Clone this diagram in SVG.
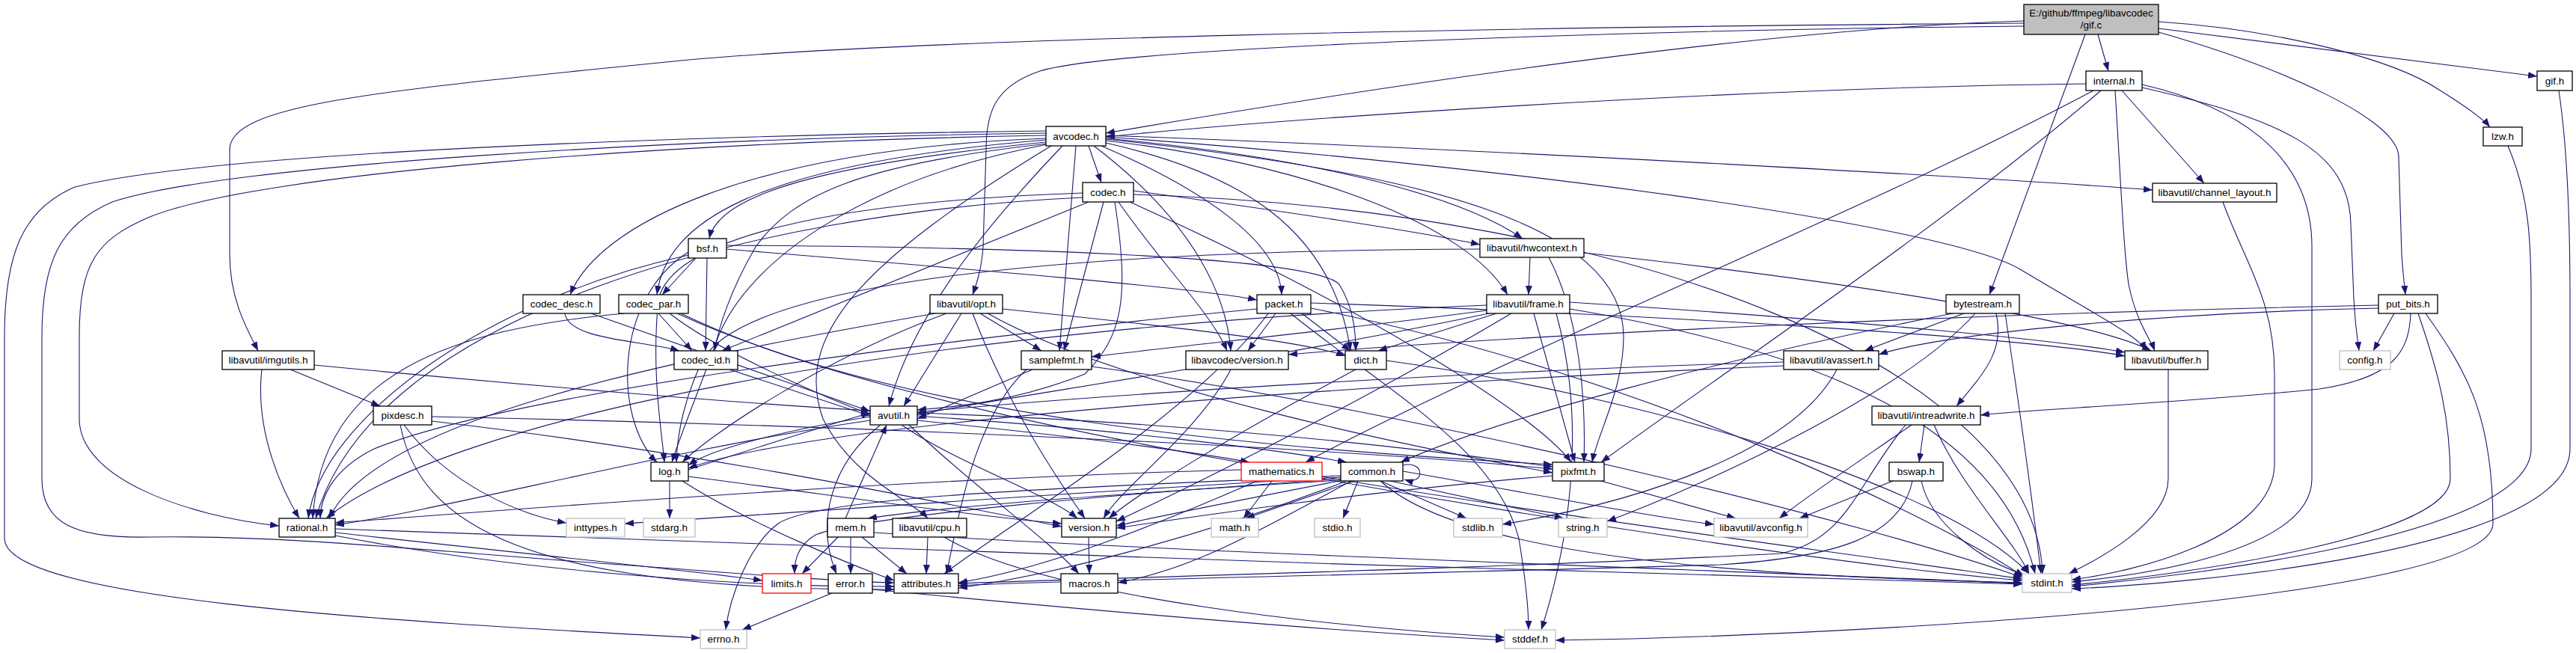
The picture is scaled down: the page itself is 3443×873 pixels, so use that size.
<svg xmlns="http://www.w3.org/2000/svg" width="3443" height="873" viewBox="0 0 3443 873">
<style>
.n rect{fill:#fff;stroke:#000;stroke-width:1.3}
.n.g rect{stroke:#bfbfbf}
.n.r rect{stroke:#ff0000}
.n text{font-family:"Liberation Sans",Arial,sans-serif;font-size:13.5px;fill:#000;text-anchor:middle}
#edges path{fill:none;stroke:#191970;stroke-width:1.1;marker-end:url(#a)}
</style>
<defs>
<marker id="a" markerWidth="13" markerHeight="10" refX="12" refY="4.5" orient="auto" markerUnits="userSpaceOnUse"><path d="M0,0 L12,4.5 L0,9 z" fill="#191970" stroke="none"/></marker>
</defs>
<rect width="3443" height="873" fill="#fff"/>
<g id="edges">
<path d="M2705,28 C2300,40 1700,140 1478,178"/>
<path d="M2705,31 C2000,36 1200,52 900,82 C500,122 307,140 307,200 L307,340 C307,400 330,440 345,469"/>
<path d="M2705,35 C2200,40 1500,62 1390,95 C1330,115 1318,150 1318,200 L1314,330 C1312,360 1305,380 1300,394"/>
<path d="M2804,46 L2818,95"/>
<path d="M2787,46 L2659,394"/>
<path d="M2885,29 C3050,40 3200,80 3260,120 C3300,145 3320,160 3328,170"/>
<path d="M2885,38 L3391,102"/>
<path d="M2885,43 C3050,90 3206,160 3206,210 L3210,340 C3212,370 3214,384 3215,394"/>
<path d="M2788,112 C2300,118 1700,160 1478,183"/>
<path d="M2798,121 C2500,280 2000,480 1745,618"/>
<path d="M2808,121 C2600,300 2300,500 2140,618"/>
<path d="M2836,121 L2946,245"/>
<path d="M2827,121 C2835,250 2838,330 2845,380 C2855,430 2875,455 2880,469"/>
<path d="M2863,113 C2980,140 3090,200 3090,330 L3090,640 C3090,740 2850,770 2769,778"/>
<path d="M2863,117 C3050,160 3140,200 3142,300 L3146,400 C3148,440 3152,460 3153,469"/>
<path d="M2625,419 L2492,469"/>
<path d="M2610,419 C2300,480 2000,560 1872,618"/>
<path d="M2668,419 C2680,470 2650,500 2615,543"/>
<path d="M2640,419 C2550,520 2300,640 2148,697"/>
<path d="M2680,419 C2700,550 2720,700 2728,767"/>
<path d="M3200,419 L3172,469"/>
<path d="M3222,419 C3220,470 3200,505 3100,520 C2900,540 2700,548 2647,555"/>
<path d="M3179,412 C2900,418 2600,445 2511,474"/>
<path d="M3232,419 C3260,500 3275,560 3275,640 C3275,720 2900,770 2769,782"/>
<path d="M3242,419 C3300,500 3332,560 3332,700 C3332,800 2500,850 2079,856"/>
<path d="M3179,408 C2600,420 2000,450 1722,474"/>
<path d="M3352,195 C3380,260 3383,320 3383,400 L3383,600 C3383,720 2900,772 2769,784"/>
<path d="M3420,121 C3432,200 3435,300 3435,400 L3435,600 C3435,740 2900,782 2769,787"/>
<path d="M2971,270 C3000,350 3040,400 3040,500 L3040,620 C3040,720 2850,765 2769,775"/>
<path d="M2898,494 L2898,640 C2898,700 2800,750 2765,767"/>
<path d="M2572,568 L2565,618"/>
<path d="M2555,568 C2480,620 2420,660 2378,693"/>
<path d="M2547,568 C2480,650 2470,720 2380,740 C2000,760 1500,772 1281,780"/>
<path d="M2585,568 C2620,650 2690,720 2712,767"/>
<path d="M2530,643 L2405,693"/>
<path d="M2556,643 C2540,720 2450,745 2300,755 C1800,770 1400,776 1281,783"/>
<path d="M2568,643 C2580,700 2650,750 2706,769"/>
<path d="M2455,494 C2400,600 2200,670 2008,701"/>
<path d="M2384,484 C2000,495 1500,525 1226,551"/>
<path d="M2384,489 C1900,510 1100,560 920,626"/>
<path d="M1792,636 C1500,650 1100,660 1040,700 C1000,730 975,800 970,842"/>
<path d="M1792,638 C1400,660 1000,690 835,700"/>
<path d="M1794,640 C1500,660 1150,690 1090,715 C1065,730 1062,750 1062,767"/>
<path d="M1810,643 L1665,693"/>
<path d="M1845,643 C1950,740 2300,770 2703,779"/>
<path d="M1815,643 L1795,693"/>
<path d="M1845,643 L1960,693"/>
<path d="M1858,643 L2090,693"/>
<path d="M1800,643 C1600,720 1400,770 1281,786"/>
<path d="M1806,643 C1700,700 1600,760 1494,779"/>
<path d="M1795,642 C1650,670 1550,690 1492,703"/>
<path d="M1875,630 C2050,660 2200,690 2291,701"/>
<path d="M1792,642 C1500,660 1280,675 1160,693"/>
<path d="M1875,622 C1905,615 1905,650 1877,641"/>
<path d="M1226,556 C1500,575 1700,600 1800,618"/>
<path d="M1226,562 C1450,585 1600,605 1670,618"/>
<path d="M1177,568 C1110,620 1090,700 1118,767"/>
<path d="M1163,562 C900,600 600,680 448,702"/>
<path d="M1205,568 C1280,620 1400,660 1440,693"/>
<path d="M1215,568 C1300,650 1400,720 1442,767"/>
<path d="M1163,557 C1050,575 950,600 920,622"/>
<path d="M1226,552 C1600,565 1900,600 2075,624"/>
<path d="M895,643 L895,693"/>
<path d="M920,628 C1000,602 1100,570 1163,552"/>
<path d="M912,643 C1000,700 1150,760 1195,776"/>
<path d="M920,637 C1100,660 1300,690 1419,700"/>
<path d="M448,707 C1000,725 2000,765 2703,781"/>
<path d="M448,712 C700,740 900,760 1019,776"/>
<path d="M448,716 C700,765 1000,785 1195,784"/>
<path d="M540,568 C600,650 700,690 757,699"/>
<path d="M535,568 C560,700 700,790 1195,788"/>
<path d="M577,557 C1200,570 1800,600 2075,627"/>
<path d="M577,563 C900,600 1200,660 1419,704"/>
<path d="M420,488 C700,515 1000,540 1163,549"/>
<path d="M388,494 L508,543"/>
<path d="M350,494 C340,580 380,660 400,693"/>
<path d="M790,419 L1163,550"/>
<path d="M755,419 C760,455 860,455 908,469"/>
<path d="M880,419 L925,469"/>
<path d="M895,419 C960,470 1100,530 1163,554"/>
<path d="M835,419 C600,440 430,500 418,693"/>
<path d="M910,419 C1200,560 1700,600 2075,621"/>
<path d="M905,419 C1300,600 2200,700 2703,774"/>
<path d="M975,494 L1163,556"/>
<path d="M930,345 L885,394"/>
<path d="M945,345 L943,469"/>
<path d="M971,333 C1300,360 1600,385 1680,401"/>
<path d="M971,328 C1300,330 1750,340 1790,380 C1808,410 1812,440 1812,469"/>
<path d="M920,337 C820,400 820,560 878,618"/>
<path d="M920,341 C650,400 430,560 412,693"/>
<path d="M1515,260 C2200,280 2720,500 2730,767"/>
<path d="M1515,255 C1700,280 1900,310 1978,327"/>
<path d="M1510,270 C1800,400 2050,550 2100,618"/>
<path d="M1490,270 C1510,400 1500,450 1450,500 C1350,540 1260,545 1226,548"/>
<path d="M1447,258 C1100,270 900,320 880,400 C870,500 885,580 888,618"/>
<path d="M1447,264 C1000,285 500,420 422,693"/>
<path d="M1475,270 L1422,469"/>
<path d="M1455,270 L965,469"/>
<path d="M1495,270 C1550,350 1620,420 1640,469"/>
<path d="M1398,175 C1000,180 300,200 100,250 C30,280 6,340 6,450 L6,720 C6,800 500,830 936,853"/>
<path d="M1398,178 C900,185 300,220 150,270 C80,300 56,350 56,450 L56,640 C56,700 100,720 200,718 C400,715 600,740 900,760 C1050,772 1150,778 1195,779"/>
<path d="M1398,181 C900,190 350,230 200,290 C130,320 106,350 106,450 L106,560 C106,640 250,690 373,703"/>
<path d="M1420,195 C1320,300 1220,420 1188,543"/>
<path d="M1455,195 L1472,244"/>
<path d="M1398,190 C1100,220 960,260 948,319"/>
<path d="M1398,187 C1000,220 890,300 878,394"/>
<path d="M1398,185 C1000,200 800,300 762,394"/>
<path d="M1400,192 C1150,220 1060,260 1010,330 C975,390 960,440 955,469"/>
<path d="M1438,195 L1416,469"/>
<path d="M1462,195 C1600,300 1640,400 1645,469"/>
<path d="M1472,195 C1600,250 1710,320 1713,394"/>
<path d="M1478,191 C1650,230 1780,300 1805,469"/>
<path d="M1478,188 C1750,220 1960,300 2015,394"/>
<path d="M1478,185 C1750,210 1950,260 2035,319"/>
<path d="M1478,186 C1900,230 2170,300 2170,450 C2170,520 2135,580 2128,618"/>
<path d="M1478,183 C2000,220 2600,300 2700,360 C2800,420 2860,450 2868,469"/>
<path d="M1478,181 C2000,200 2700,240 2877,254"/>
<path d="M1405,195 C1150,350 1060,450 1100,560 C1140,640 1220,670 1240,693"/>
<path d="M1400,193 C1150,240 1000,350 960,450 C935,520 910,580 898,618"/>
<path d="M1705,419 L1668,469"/>
<path d="M1740,419 L1805,469"/>
<path d="M1752,405 C2200,420 2700,450 2840,476"/>
<path d="M1680,413 C1300,450 700,520 500,600 C440,630 428,670 428,693"/>
<path d="M1695,419 C1600,550 1350,700 1262,767"/>
<path d="M1725,419 C1850,520 2000,600 2030,720 C2040,780 2043,820 2043,842"/>
<path d="M1752,412 C2200,500 2600,700 2705,771"/>
<path d="M1645,494 C1600,580 1500,650 1475,693"/>
<path d="M1310,419 L1392,469"/>
<path d="M1285,419 L1208,543"/>
<path d="M1265,419 C1100,480 950,580 912,618"/>
<path d="M1250,419 C900,480 500,560 440,693"/>
<path d="M1340,413 C1600,440 1750,458 1798,476"/>
<path d="M1320,419 C1500,520 1900,600 2075,632"/>
<path d="M1300,419 C1350,550 1420,650 1450,693"/>
<path d="M1380,494 L1226,560"/>
<path d="M1372,494 C1300,560 1280,700 1265,767"/>
<path d="M1459,490 C1900,550 2500,700 2703,772"/>
<path d="M2045,344 L2043,394"/>
<path d="M2117,338 C2500,380 2800,430 2875,469"/>
<path d="M1978,333 C1400,335 1000,380 940,480 C915,530 905,580 904,618"/>
<path d="M2070,344 C2110,420 2120,530 2117,618"/>
<path d="M2080,419 C2130,600 2080,780 2060,842"/>
<path d="M2098,413 C2500,480 2680,600 2720,767"/>
<path d="M1990,419 C1700,480 1350,530 1226,554"/>
<path d="M2098,404 C2500,430 2750,455 2840,471"/>
<path d="M2000,419 L1842,469"/>
<path d="M1987,408 C1200,440 600,560 436,693"/>
<path d="M1987,415 C1800,440 1600,460 1459,477"/>
<path d="M2050,419 L2105,618"/>
<path d="M2020,419 C1800,550 1550,670 1492,697"/>
<path d="M1853,482 C2200,530 2600,650 2712,767"/>
<path d="M1812,494 C1650,580 1520,660 1482,693"/>
<path d="M1120,718 L1072,767"/>
<path d="M1137,718 L1137,767"/>
<path d="M1152,718 L1212,767"/>
<path d="M1130,693 L1185,568"/>
<path d="M1168,712 C1600,740 2300,762 2703,780"/>
<path d="M1240,718 L1238,767"/>
<path d="M1262,718 C1400,800 1800,840 2011,852"/>
<path d="M1112,793 L992,842"/>
<path d="M1166,788 C1500,820 1800,845 2011,856"/>
<path d="M1455,718 L1456,767"/>
<path d="M2140,643 L2320,693"/>
<path d="M2075,636 C1800,660 1600,690 1492,706"/>
<path d="M1700,643 L1662,693"/>
<path d="M1767,640 C2100,700 2500,760 2703,776"/>
<path d="M1680,643 C1550,700 1400,760 1281,779"/>
<path d="M1659,628 C1200,640 700,680 448,699"/>
</g>
<g id="gif_c" class="n"><rect x="2705" y="6" width="180" height="40" style="fill:#bfbfbf"/><text x="2795" y="22">E:/github/ffmpeg/libavcodec</text><text x="2795" y="38">/gif.c</text></g>
<g id="internal_h" class="n"><rect x="2788" y="95" width="75" height="26"/><text x="2825.5" y="113">internal.h</text></g>
<g id="gif_h" class="n"><rect x="3391" y="95" width="47" height="26"/><text x="3414.5" y="113">gif.h</text></g>
<g id="lzw_h" class="n"><rect x="3319" y="170" width="52" height="25"/><text x="3345" y="187">lzw.h</text></g>
<g id="channel_layout_h" class="n"><rect x="2877" y="245" width="166" height="25"/><text x="2960" y="262">libavutil/channel_layout.h</text></g>
<g id="bytestream_h" class="n"><rect x="2601" y="394" width="98" height="25"/><text x="2650" y="411">bytestream.h</text></g>
<g id="put_bits_h" class="n"><rect x="3179" y="394" width="79" height="25"/><text x="3218.5" y="411">put_bits.h</text></g>
<g id="buffer_h" class="n"><rect x="2840" y="469" width="111" height="25"/><text x="2895.5" y="486">libavutil/buffer.h</text></g>
<g id="config_h" class="n g"><rect x="3127" y="469" width="68" height="25"/><text x="3161" y="486">config.h</text></g>
<g id="intreadwrite_h" class="n"><rect x="2502" y="543" width="145" height="25"/><text x="2574.5" y="560">libavutil/intreadwrite.h</text></g>
<g id="bswap_h" class="n"><rect x="2525" y="618" width="72" height="25"/><text x="2561" y="635">bswap.h</text></g>
<g id="stdint_h" class="n g"><rect x="2703" y="767" width="66" height="25"/><text x="2736" y="784">stdint.h</text></g>
<g id="avcodec_h" class="n"><rect x="1398" y="169" width="80" height="26"/><text x="1438" y="187">avcodec.h</text></g>
<g id="codec_h" class="n"><rect x="1447" y="244" width="68" height="26"/><text x="1481" y="262">codec.h</text></g>
<g id="bsf_h" class="n"><rect x="920" y="319" width="51" height="26"/><text x="945.5" y="337">bsf.h</text></g>
<g id="hwcontext_h" class="n"><rect x="1978" y="319" width="139" height="25"/><text x="2047.5" y="336">libavutil/hwcontext.h</text></g>
<g id="codec_desc_h" class="n"><rect x="699" y="394" width="103" height="25"/><text x="750.5" y="411">codec_desc.h</text></g>
<g id="codec_par_h" class="n"><rect x="827" y="394" width="93" height="25"/><text x="873.5" y="411">codec_par.h</text></g>
<g id="opt_h" class="n"><rect x="1243" y="394" width="97" height="25"/><text x="1291.5" y="411">libavutil/opt.h</text></g>
<g id="packet_h" class="n"><rect x="1680" y="394" width="72" height="25"/><text x="1716" y="411">packet.h</text></g>
<g id="frame_h" class="n"><rect x="1987" y="394" width="111" height="25"/><text x="2042.5" y="411">libavutil/frame.h</text></g>
<g id="imgutils_h" class="n"><rect x="297" y="469" width="123" height="25"/><text x="358.5" y="486">libavutil/imgutils.h</text></g>
<g id="codec_id_h" class="n"><rect x="901" y="469" width="85" height="25"/><text x="943.5" y="486">codec_id.h</text></g>
<g id="samplefmt_h" class="n"><rect x="1365" y="469" width="94" height="25"/><text x="1412" y="486">samplefmt.h</text></g>
<g id="lavc_version_h" class="n"><rect x="1585" y="469" width="137" height="25"/><text x="1653.5" y="486">libavcodec/version.h</text></g>
<g id="dict_h" class="n"><rect x="1798" y="469" width="55" height="25"/><text x="1825.5" y="486">dict.h</text></g>
<g id="avassert_h" class="n"><rect x="2384" y="469" width="127" height="25"/><text x="2447.5" y="486">libavutil/avassert.h</text></g>
<g id="pixdesc_h" class="n"><rect x="499" y="543" width="78" height="25"/><text x="538" y="560">pixdesc.h</text></g>
<g id="avutil_h" class="n"><rect x="1163" y="543" width="63" height="25"/><text x="1194.5" y="560">avutil.h</text></g>
<g id="log_h" class="n"><rect x="870" y="618" width="50" height="25"/><text x="895" y="635">log.h</text></g>
<g id="mathematics_h" class="n r"><rect x="1659" y="618" width="108" height="25"/><text x="1713" y="635">mathematics.h</text></g>
<g id="common_h" class="n"><rect x="1792" y="618" width="83" height="25"/><text x="1833.5" y="635">common.h</text></g>
<g id="pixfmt_h" class="n"><rect x="2075" y="618" width="69" height="25"/><text x="2109.5" y="635">pixfmt.h</text></g>
<g id="rational_h" class="n"><rect x="373" y="693" width="75" height="25"/><text x="410.5" y="710">rational.h</text></g>
<g id="inttypes_h" class="n g"><rect x="757" y="693" width="78" height="25"/><text x="796" y="710">inttypes.h</text></g>
<g id="stdarg_h" class="n g"><rect x="860" y="693" width="69" height="25"/><text x="894.5" y="710">stdarg.h</text></g>
<g id="mem_h" class="n"><rect x="1106" y="693" width="62" height="25"/><text x="1137" y="710">mem.h</text></g>
<g id="cpu_h" class="n"><rect x="1193" y="693" width="99" height="25"/><text x="1242.5" y="710">libavutil/cpu.h</text></g>
<g id="version_h" class="n"><rect x="1419" y="693" width="73" height="25"/><text x="1455.5" y="710">version.h</text></g>
<g id="math_h" class="n g"><rect x="1619" y="693" width="63" height="25"/><text x="1650.5" y="710">math.h</text></g>
<g id="stdio_h" class="n g"><rect x="1757" y="693" width="61" height="25"/><text x="1787.5" y="710">stdio.h</text></g>
<g id="stdlib_h" class="n g"><rect x="1943" y="693" width="65" height="25"/><text x="1975.5" y="710">stdlib.h</text></g>
<g id="string_h" class="n g"><rect x="2083" y="693" width="65" height="25"/><text x="2115.5" y="710">string.h</text></g>
<g id="avconfig_h" class="n g"><rect x="2291" y="693" width="125" height="25"/><text x="2353.5" y="710">libavutil/avconfig.h</text></g>
<g id="limits_h" class="n r"><rect x="1019" y="767" width="65" height="26"/><text x="1051.5" y="785">limits.h</text></g>
<g id="error_h" class="n"><rect x="1107" y="767" width="59" height="26"/><text x="1136.5" y="785">error.h</text></g>
<g id="attributes_h" class="n"><rect x="1195" y="767" width="86" height="26"/><text x="1238" y="785">attributes.h</text></g>
<g id="macros_h" class="n"><rect x="1418" y="767" width="76" height="26"/><text x="1456" y="785">macros.h</text></g>
<g id="errno_h" class="n g"><rect x="936" y="842" width="62" height="25"/><text x="967" y="859">errno.h</text></g>
<g id="stddef_h" class="n g"><rect x="2011" y="842" width="68" height="25"/><text x="2045" y="859">stddef.h</text></g>
</svg>
